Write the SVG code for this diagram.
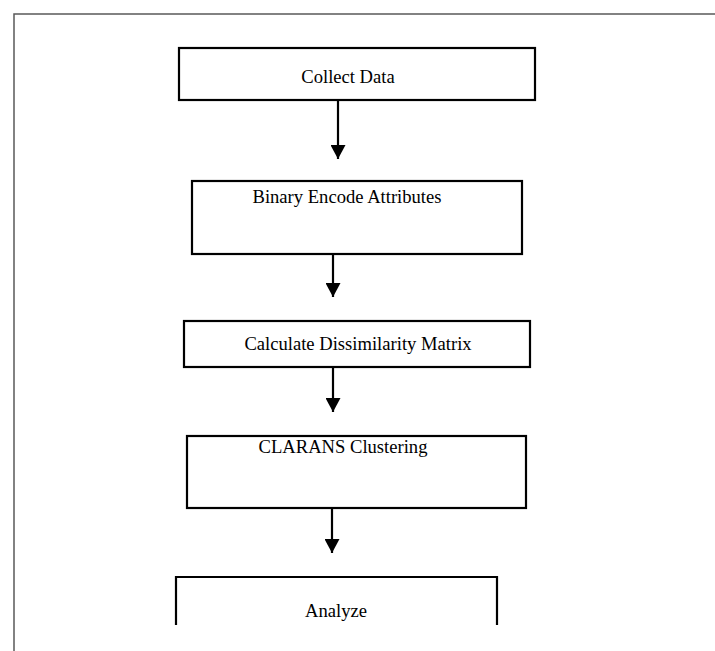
<svg xmlns="http://www.w3.org/2000/svg" width="715" height="651" viewBox="0 0 715 651">
  <style>
    .box { fill: #ffffff; stroke: #000000; stroke-width: 2.2; }
    .label { font-family: "Liberation Serif", "Times New Roman", serif; font-size: 18.6px; fill: #000000; text-anchor: middle; }
    .edge { stroke: #000000; stroke-width: 2.2; fill: none; }
    .frame { stroke: #5a5a5a; stroke-width: 1.5; fill: none; }
  </style>
  <defs>
    <marker id="arrowhead" viewBox="0 0 14 15" refX="14" refY="7.5" markerWidth="14" markerHeight="15" markerUnits="userSpaceOnUse" orient="auto">
      <path d="M0,0 L14,7.5 L0,15 Z" fill="#000000"/>
    </marker>
  </defs>

  <!-- page frame -->
  <path class="frame" d="M14,700 L14,14 L730,14"/>

  <g id="collect-data">
    <rect class="box" x="179" y="48" width="356" height="52"/>
    <text class="label" x="348" y="83">Collect Data</text>
  </g>

  <g id="binary-encode">
    <rect class="box" x="192" y="181" width="330" height="73"/>
    <text class="label" x="347" y="203">Binary Encode Attributes</text>
  </g>

  <g id="dissimilarity-matrix">
    <rect class="box" x="184" y="321" width="346" height="46"/>
    <text class="label" x="358" y="350">Calculate Dissimilarity Matrix</text>
  </g>

  <g id="clarans">
    <rect class="box" x="187" y="436" width="339" height="72"/>
    <text class="label" x="343" y="453">CLARANS Clustering</text>
  </g>

  <g id="analyze">
    <path class="box" d="M176,625 L176,577 L497,577 L497,625" fill="none"/>
    <text class="label" x="336" y="617">Analyze</text>
  </g>

  <g id="connectors">
    <line class="edge" x1="338" y1="100" x2="338" y2="159" marker-end="url(#arrowhead)"/>
    <line class="edge" x1="333" y1="254" x2="333" y2="297" marker-end="url(#arrowhead)"/>
    <line class="edge" x1="333" y1="367" x2="333" y2="412" marker-end="url(#arrowhead)"/>
    <line class="edge" x1="332" y1="508" x2="332" y2="553" marker-end="url(#arrowhead)"/>
  </g>
</svg>
